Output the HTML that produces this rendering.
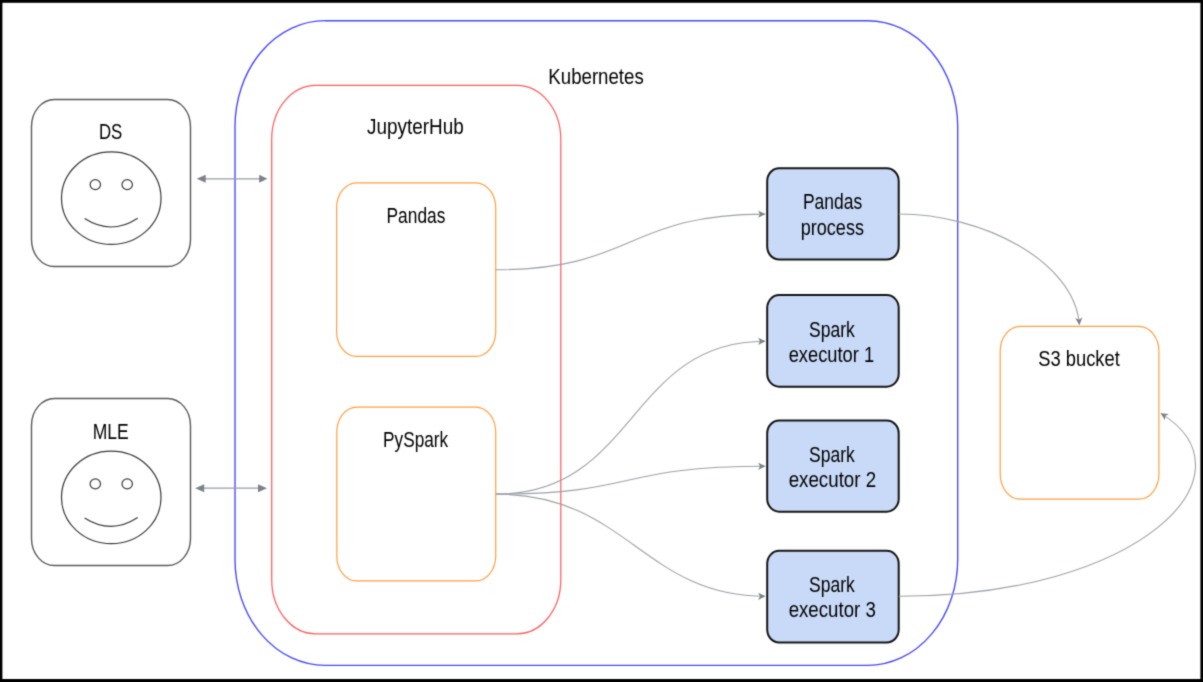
<!DOCTYPE html>
<html><head><meta charset="utf-8">
<style>
html,body{margin:0;padding:0;background:#000;}
body{width:1203px;height:682px;overflow:hidden;}
svg{display:block;}
text{font-family:"Liberation Sans",sans-serif;fill:#000;}
</style></head><body>
<svg width="1203" height="682" viewBox="0 0 1203 682">
<defs><filter id="bl" color-interpolation-filters="sRGB" x="0" y="0" width="1203" height="682" filterUnits="userSpaceOnUse"><feConvolveMatrix order="3" kernelMatrix="0.0225 0.1050 0.0225 0.1050 0.4900 0.1050 0.0225 0.1050 0.0225" edgeMode="duplicate"/></filter>
<marker id="ca" viewBox="0 0 7.4 7.4" refX="7.2" refY="3.7" markerWidth="7.4" markerHeight="7.4" markerUnits="userSpaceOnUse" orient="auto">
<path d="M0,0 L7.4,3.7 L0,7.4 L2.1,3.7 Z" fill="#7b8088"/>
</marker>
</defs>
<g filter="url(#bl)"><rect x="0" y="0" width="1203" height="682" fill="#000"/>
<rect x="2.4" y="2.8" width="1198" height="676.2" fill="#fff"/>

<!-- Kubernetes -->
<rect x="235" y="20.7" width="722.7" height="644.7" rx="90" ry="106" fill="none" stroke="#4646ff" stroke-width="1.35"/>
<!-- JupyterHub -->
<rect x="271.7" y="85.4" width="289.1" height="548.4" rx="44" ry="54" fill="none" stroke="#ff5c5c" stroke-width="1.25"/>
<!-- Pandas / PySpark -->
<rect x="336.6" y="182.8" width="159.1" height="173.6" rx="20" ry="25" fill="none" stroke="#ff9f40" stroke-width="1.2"/>
<rect x="336.8" y="407.1" width="158.9" height="173.8" rx="20" ry="25" fill="none" stroke="#ff9f40" stroke-width="1.2"/>
<!-- S3 -->
<rect x="1000.2" y="326.3" width="158.7" height="172.8" rx="20" ry="25" fill="none" stroke="#ff9f40" stroke-width="1.2"/>

<!-- DS / MLE boxes -->
<rect x="31.5" y="99.5" width="159" height="167" rx="23" ry="27" fill="none" stroke="#5a5a5a" stroke-width="1.4"/>
<rect x="31.5" y="398.5" width="159" height="167" rx="23" ry="27" fill="none" stroke="#5a5a5a" stroke-width="1.4"/>

<!-- faces -->
<g fill="none" stroke="#3a3a3a" stroke-width="1.2">
<ellipse cx="111.25" cy="198.15" rx="49.75" ry="46.25"/>
<ellipse cx="95.3" cy="184.6" rx="5.2" ry="5"/>
<ellipse cx="127.2" cy="184.6" rx="5.2" ry="5"/>
<path d="M84.6,218.6 Q111.2,235.6 137.7,218.2"/>
<ellipse cx="111.25" cy="497.4" rx="49.75" ry="46.25"/>
<ellipse cx="95.3" cy="483.9" rx="5.2" ry="5"/>
<ellipse cx="127.2" cy="483.9" rx="5.2" ry="5"/>
<path d="M84.6,517.9 Q111.2,534.9 137.7,517.5"/>
</g>

<!-- double arrows -->
<g stroke="#979ba1" stroke-width="1.3">
<line x1="203" y1="178.8" x2="261" y2="178.8"/>
<line x1="201" y1="488.2" x2="261" y2="488.2"/>
</g>
<g fill="#7d828a">
<path d="M196.7,178.8 L205.7,174.8 L205.7,182.8 Z"/>
<path d="M267.4,178.8 L259.2,174.8 L259.2,182.8 Z"/>
<path d="M195.2,488.2 L204.2,484.2 L204.2,492.2 Z"/>
<path d="M267,488.2 L258,484.2 L258,492.2 Z"/>
</g>

<!-- process boxes -->
<g fill="#c9daf8" stroke="#141414" stroke-width="2">
<rect x="767.2" y="168.2" width="131.5" height="91.4" rx="12" ry="13"/>
<rect x="767.2" y="295.1" width="131.5" height="91.6" rx="12" ry="13"/>
<rect x="767.2" y="420.4" width="131.5" height="91.3" rx="12" ry="13"/>
<rect x="767.2" y="550.8" width="131.5" height="91.8" rx="12" ry="13"/>
</g>

<!-- curves -->
<g fill="none" stroke="#9da1a7" stroke-width="1.1" marker-end="url(#ca)">
<path d="M495.8,269.8 C634.3,269.8 626.3,214.1 765.2,214.1"/>
<path d="M496.2,494.1 C637,494.1 627.7,341.3 765.2,341.3"/>
<path d="M496.2,494.1 C638.1,494.1 616.3,466.3 765.2,466.3"/>
<path d="M496.2,494.1 C627.1,494.1 643.2,596.3 765.2,596.3"/>
<path d="M898.8,214 C982.2,214 1074.6,261.1 1079.4,324.8"/>
<path d="M898.8,596.3 C1142.3,596.3 1258.8,473.4 1160.8,413.4"/>
</g>

<!-- labels -->
<text x="548.36" y="83.5" font-size="21.5" textLength="95.38" lengthAdjust="spacingAndGlyphs">Kubernetes</text>
<text x="367.05" y="134.0" font-size="21.5" textLength="96.74" lengthAdjust="spacingAndGlyphs">JupyterHub</text>
<text x="98.94" y="139.3" font-size="22" textLength="23.43" lengthAdjust="spacingAndGlyphs">DS</text>
<text x="92.73" y="438.6" font-size="22" textLength="36.01" lengthAdjust="spacingAndGlyphs">MLE</text>
<text x="386.52" y="223.3" font-size="21.5" textLength="58.85" lengthAdjust="spacingAndGlyphs">Pandas</text>
<text x="383.10" y="446.8" font-size="21.5" textLength="65.11" lengthAdjust="spacingAndGlyphs">PySpark</text>
<text x="802.94" y="209.2" font-size="21.5" textLength="59.27" lengthAdjust="spacingAndGlyphs">Pandas</text>
<text x="800.73" y="234.7" font-size="21.5" textLength="63.22" lengthAdjust="spacingAndGlyphs">process</text>
<text x="809.10" y="336.8" font-size="21.5" textLength="45.74" lengthAdjust="spacingAndGlyphs">Spark</text>
<text x="788.68" y="361.8" font-size="21.5" textLength="85.43" lengthAdjust="spacingAndGlyphs">executor 1</text>
<text x="809.10" y="461.8" font-size="21.5" textLength="45.74" lengthAdjust="spacingAndGlyphs">Spark</text>
<text x="788.68" y="486.8" font-size="21.5" textLength="87.43" lengthAdjust="spacingAndGlyphs">executor 2</text>
<text x="809.10" y="592.2" font-size="21.5" textLength="45.74" lengthAdjust="spacingAndGlyphs">Spark</text>
<text x="788.68" y="617.2" font-size="21.5" textLength="87.11" lengthAdjust="spacingAndGlyphs">executor 3</text>
<text x="1038.31" y="366.4" font-size="21.5" textLength="81.53" lengthAdjust="spacingAndGlyphs">S3 bucket</text>
</g></svg>
</body></html>
